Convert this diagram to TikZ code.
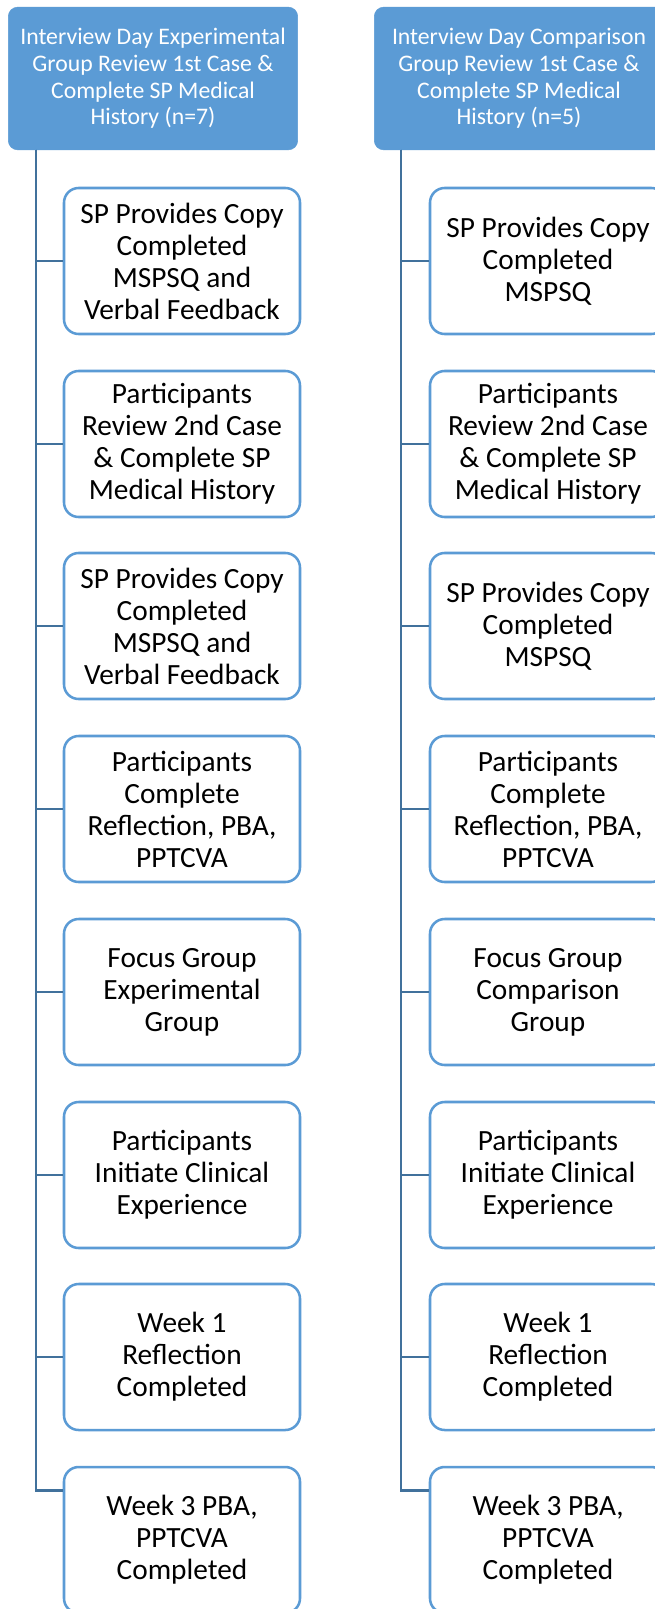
\documentclass[tikz,border=0pt]{standalone}
\usepackage{fontspec}
\setmainfont{Carlito}
\usepackage{tikz}
\usetikzlibrary{positioning}

\definecolor{accblue}{HTML}{5B9BD5}
\definecolor{linkblue}{HTML}{41719C}

\begin{document}
\begin{tikzpicture}[x=0.75pt,y=-0.75pt,
  headbox/.style={rectangle,rounded corners=7pt,fill=accblue,draw=accblue,
    text=white,align=center,inner sep=0pt,
    minimum width=217pt,minimum height=107pt,
    font=\fontsize{17.8}{20}\selectfont},
  stepbox/.style={rectangle,rounded corners=11pt,fill=white,draw=accblue,
    line width=1.9pt,align=center,inner sep=0pt,
    minimum width=177pt,minimum height=109.5pt,
    font=\fontsize{22}{24}\selectfont},
  link/.style={draw=linkblue,line width=2.2pt}]
\clip (0,0) rectangle (655,1609);
\fill[white] (0,0) rectangle (655,1609);
\node[headbox] (etop) at (153,78.5) {Interview Day Experimental\\Group Review 1st Case \&\\Complete SP Medical\\History (n=7)};
\node[headbox] (ctop) at (519,78.5) {Interview Day Comparison\\Group Review 1st Case \&\\Complete SP Medical\\History (n=5)};
\coordinate (espine) at (36,150);
\coordinate (cspine) at (401,150);
\node[stepbox] (e1) at (182,261) {SP Provides Copy\\Completed\\MSPSQ and\\Verbal Feedback};
\node[stepbox] (e2) at (182,444) {Participants\\Review 2nd Case\\\& Complete SP\\Medical History};
\node[stepbox] (e3) at (182,626) {SP Provides Copy\\Completed\\MSPSQ and\\Verbal Feedback};
\node[stepbox] (e4) at (182,809) {Participants\\Complete\\Reflection, PBA,\\PPTCVA};
\node[stepbox] (e5) at (182,992) {Focus Group\\Experimental\\Group};
\node[stepbox] (e6) at (182,1175) {Participants\\Initiate Clinical\\Experience};
\node[stepbox] (e7) at (182,1357) {Week 1\\Reflection\\Completed};
\node[stepbox] (e8) at (182,1540) {Week 3 PBA,\\PPTCVA\\Completed};
\node[stepbox] (c1) at (548,261) {SP Provides Copy\\Completed\\MSPSQ};
\node[stepbox] (c2) at (548,444) {Participants\\Review 2nd Case\\\& Complete SP\\Medical History};
\node[stepbox] (c3) at (548,626) {SP Provides Copy\\Completed\\MSPSQ};
\node[stepbox] (c4) at (548,809) {Participants\\Complete\\Reflection, PBA,\\PPTCVA};
\node[stepbox] (c5) at (548,992) {Focus Group\\Comparison\\Group};
\node[stepbox] (c6) at (548,1175) {Participants\\Initiate Clinical\\Experience};
\node[stepbox] (c7) at (548,1357) {Week 1\\Reflection\\Completed};
\node[stepbox] (c8) at (548,1540) {Week 3 PBA,\\PPTCVA\\Completed};
\draw[link] (espine) |- (e1.west);
\draw[link] (espine) |- (e2.west);
\draw[link] (espine) |- (e3.west);
\draw[link] (espine) |- (e4.west);
\draw[link] (espine) |- (e5.west);
\draw[link] (espine) |- (e6.west);
\draw[link] (espine) |- (e7.west);
\draw[link] (espine) |- ([yshift=-18.5pt]e8.north west);
\draw[link] (cspine) |- (c1.west);
\draw[link] (cspine) |- (c2.west);
\draw[link] (cspine) |- (c3.west);
\draw[link] (cspine) |- (c4.west);
\draw[link] (cspine) |- (c5.west);
\draw[link] (cspine) |- (c6.west);
\draw[link] (cspine) |- (c7.west);
\draw[link] (cspine) |- ([yshift=-18.5pt]c8.north west);
\end{tikzpicture}
\end{document}
